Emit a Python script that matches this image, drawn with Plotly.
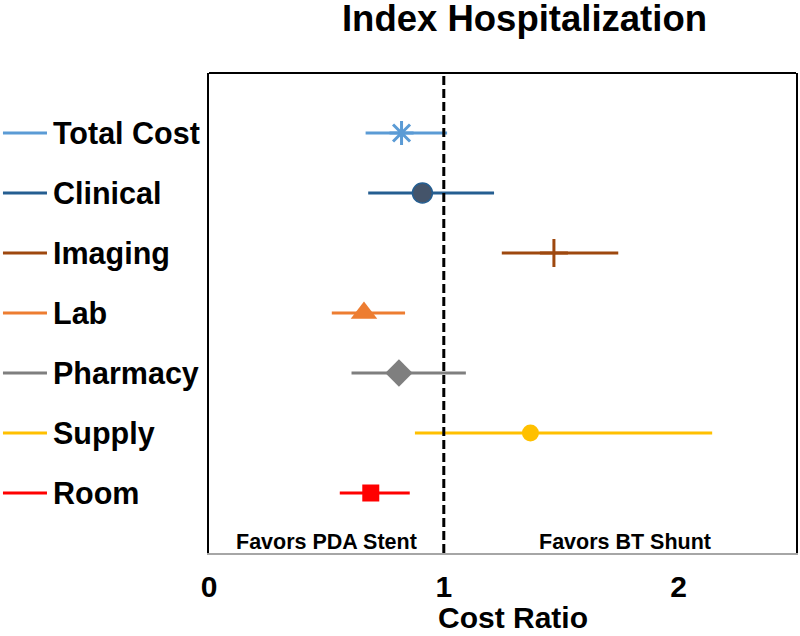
import plotly.graph_objects as go

categories = ["Total Cost", "Clinical", "Imaging", "Lab", "Pharmacy", "Supply", "Room"]
estimate = [0.82, 0.909, 1.469, 0.66, 0.809, 1.369, 0.689]
lower = [0.667, 0.678, 1.247, 0.523, 0.607, 0.877, 0.557]
upper = [1.014, 1.214, 1.743, 0.835, 1.094, 2.143, 0.855]
row_pos = [7, 6, 5, 4, 3, 2, 1]
colors = ["#5B9BD5", "#255E91", "#9E480E", "#ED7D31", "#7F7F7F", "#FFC000", "#FF0000"]
x_ticks = [0, 1, 2]
favor_labels = ["Favors PDA Stent", "Favors BT Shunt"]
favor_x = [0.5, 1.77]

FONT = "Liberation Sans, Arial, sans-serif"

markers = [
    dict(symbol="asterisk-open", size=20, color=colors[0], line=dict(color=colors[0], width=3)),
    dict(symbol="circle", size=20, color="#44546A", line=dict(color="#255E91", width=1.5)),
    dict(symbol="cross-thin-open", size=20, color=colors[2], line=dict(color=colors[2], width=3)),
    dict(symbol="triangle-up", size=23, color=colors[3], line=dict(width=0)),
    dict(symbol="diamond", size=21, color=colors[4], line=dict(width=0)),
    dict(symbol="circle", size=17, color=colors[5], line=dict(width=0)),
    dict(symbol="square", size=17, color=colors[6], line=dict(width=0)),
]

fig = go.Figure()
for i, cat in enumerate(categories):
    fig.add_trace(go.Scatter(
        x=[estimate[i]], y=[row_pos[i]], mode="markers", name=cat,
        marker=markers[i],
        error_x=dict(type="data", symmetric=False,
                     array=[upper[i] - estimate[i]],
                     arrayminus=[estimate[i] - lower[i]],
                     color=colors[i], thickness=3, width=0),
        showlegend=False,
    ))
    # legend-like line + label on the left
    fig.add_shape(type="line", xref="paper", yref="y", x0=-0.351, x1=-0.276,
                  y0=row_pos[i], y1=row_pos[i], line=dict(color=colors[i], width=3))
    fig.add_annotation(xref="paper", yref="y", x=-0.2695, y=row_pos[i], text="<b>%s</b>" % cat,
                       showarrow=False, xanchor="left", yanchor="middle",
                       font=dict(family=FONT, size=30.5, color="black"))

# reference line at 1
fig.add_shape(type="line", xref="x", yref="paper", x0=1, x1=1, y0=0, y1=1,
              line=dict(color="black", width=3, dash="9px,4px"))
# top border
fig.add_shape(type="line", xref="paper", yref="paper", x0=0, x1=1, y0=1, y1=1,
              line=dict(color="black", width=2))

for t, xv in zip(favor_labels, favor_x):
    fig.add_annotation(xref="x", yref="y", x=xv, y=0.183, text="<b>%s</b>" % t,
                       showarrow=False, xanchor="center", yanchor="middle",
                       font=dict(family=FONT, size=21.5, color="black"))

# x-axis title
fig.add_annotation(xref="x", yref="paper", x=1.295, y=-0.134, text="<b>Cost Ratio</b>",
                   showarrow=False, xanchor="center", yanchor="middle",
                   font=dict(family=FONT, size=30, color="black"))

fig.update_layout(
    width=800, height=636,
    margin=dict(l=209, r=4, t=73, b=83, autoexpand=False),
    paper_bgcolor="white", plot_bgcolor="white",
    title=dict(text="<b>Index Hospitalization</b>", xref="container", yref="container",
               x=0.6556, y=0.971, xanchor="center", yanchor="middle",
               font=dict(family=FONT, size=36.5, color="black")),
    xaxis=dict(range=[0, 2.5], tickvals=x_ticks, ticktext=["<b>%d</b>" % v for v in x_ticks],
               showgrid=False, zeroline=False, showline=True, linecolor="#A6A6A6", linewidth=2,
               ticks="", ticklabelstandoff=6, automargin=False,
               tickfont=dict(family=FONT, size=30, color="black")),
    yaxis=dict(range=[0, 8], showgrid=False, zeroline=False, showticklabels=False,
               showline=True, mirror=True, linecolor="black", linewidth=2, ticks="",
               automargin=False),
    showlegend=False,
)

fig.write_html("out.html", config={"displayModeBar": False},
               post_script="document.body.style.margin='0';document.body.style.overflow='hidden';")
